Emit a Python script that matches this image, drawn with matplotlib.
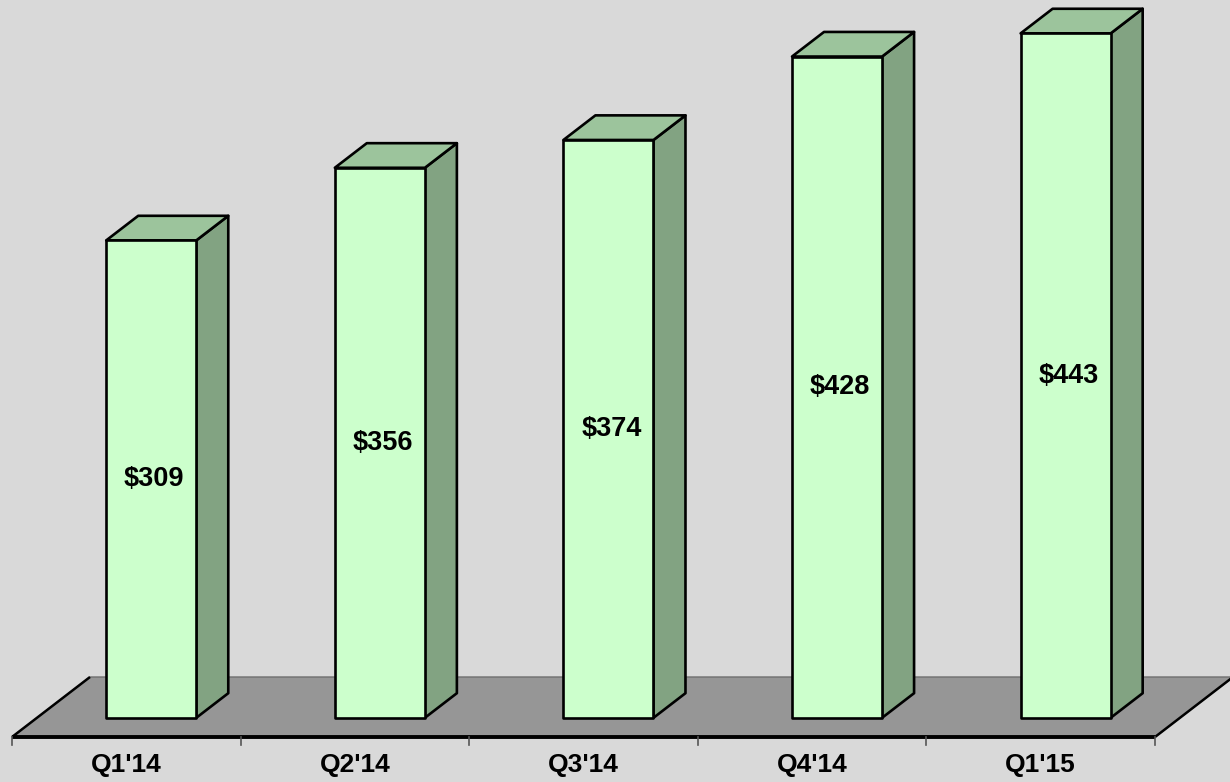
import matplotlib
matplotlib.use("Agg")
import matplotlib.pyplot as plt
from matplotlib.patches import Polygon

categories = ["Q1'14", "Q2'14", "Q3'14", "Q4'14", "Q1'15"]
values = [309, 356, 374, 428, 443]
labels = ["$309", "$356", "$374", "$428", "$443"]

W, H, DPI = 1230, 782, 100
fig = plt.figure(figsize=(W / DPI, H / DPI), dpi=DPI)
fig.patch.set_facecolor("#d9d9d9")
ax = fig.add_axes([0, 0, 1, 1])
ax.set_facecolor("#d9d9d9")
ax.axis("off")

# scales (pixels per unit)
px_per_cat = 228.6
px_per_val = 1.545
x0_px = 12      # left front corner of floor
y0_px = 737     # front edge of floor (from top)
ax.set_xlim(-0.5 - x0_px / px_per_cat, -0.5 + (W - x0_px) / px_per_cat)
ax.set_ylim(-(H - y0_px) / px_per_val, y0_px / px_per_val)

# depth projection in data units per depth unit
DX = 78 / px_per_cat
DY = 60 / px_per_val

def P(x, v, d):
    return (x + DX * d, v + DY * d)

n = len(categories)
# floor
floor = Polygon([P(-0.5, 0, 0), P(n - 0.5, 0, 0), P(n - 0.5, 0, 1), P(-0.5, 0, 1)],
                closed=True, facecolor="#969696", edgecolor="#6e6e6e", lw=1.0, zorder=1)
ax.add_patch(floor)
for xe in (-0.5, n - 0.5):
    a, b = P(xe, 0, 0), P(xe, 0, 1)
    ax.plot([a[0], b[0]], [a[1], b[1]], color="black", lw=1.8, zorder=2,
            solid_capstyle="butt")
ax.plot([-0.5, n - 0.5], [0, 0], color="black", lw=2.8, zorder=2, solid_capstyle="butt")
tick_len = 8 / px_per_val
for i in range(n + 1):
    ax.plot([i - 0.5, i - 0.5], [0, -tick_len], color="#555555", lw=1.2, zorder=2)

# bars
hw = 0.197
d0, d1 = 0.32, 0.73
front_c = "#ccffcc"
top_c = "#9cc49c"
side_c = "#82a382"
for i, v in enumerate(values):
    xl, xr = i - hw, i + hw
    side = Polygon([P(xr, 0, d0), P(xr, 0, d1), P(xr, v, d1), P(xr, v, d0)],
                   closed=True, facecolor=side_c, edgecolor="black", lw=1.9,
                   joinstyle="round", zorder=3)
    top = Polygon([P(xl, v, d0), P(xr, v, d0), P(xr, v, d1), P(xl, v, d1)],
                  closed=True, facecolor=top_c, edgecolor="black", lw=1.9,
                  joinstyle="round", zorder=3)
    front = Polygon([P(xl, 0, d0), P(xr, 0, d0), P(xr, v, d0), P(xl, v, d0)],
                    closed=True, facecolor=front_c, edgecolor="black", lw=1.9,
                    joinstyle="round", zorder=4)
    for p in (side, top, front):
        ax.add_patch(p)
    cx, cy = P(i, v / 2, d0)
    ax.text(cx + 3 / px_per_cat, cy, labels[i], ha="center", va="center",
            fontsize=19.5, fontweight="bold", family="Liberation Sans",
            color="black", zorder=5)

for i, c in enumerate(categories):
    ax.text(i, -28 / px_per_val, c, ha="center", va="center", fontsize=19,
            fontweight="bold", family="Liberation Sans", color="black")

fig.savefig("out.png", dpi=DPI, facecolor=fig.get_facecolor())
